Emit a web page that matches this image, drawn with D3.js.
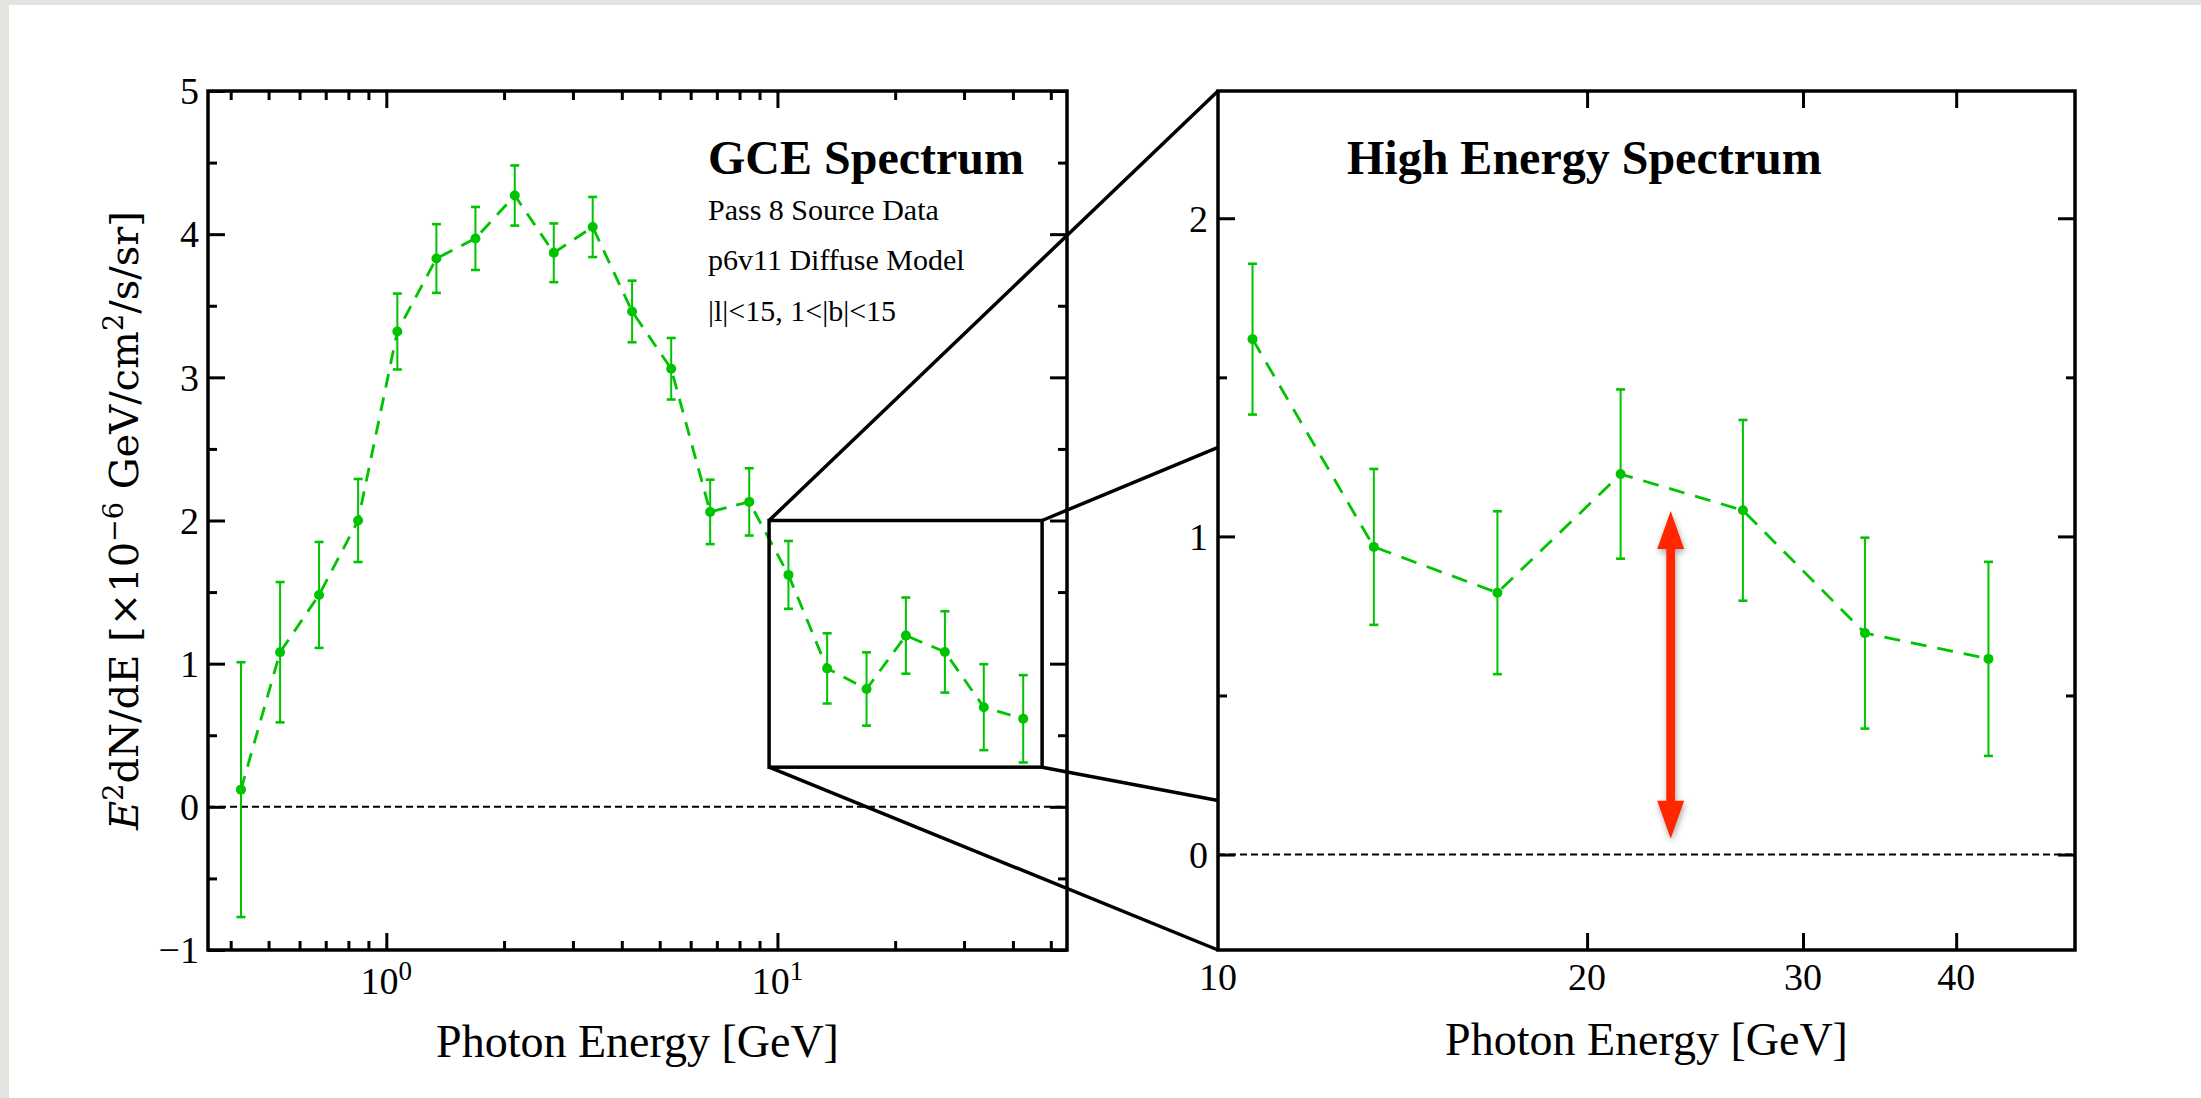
<!DOCTYPE html>
<html><head><meta charset="utf-8">
<script src="https://cdn.jsdelivr.net/npm/d3@7"></script>
<style>html,body{margin:0;padding:0;background:#fff;overflow:hidden}</style>
</head><body>
<svg id="chart" width="2201" height="1098"></svg>
<script>
// ---------------- data ----------------
const energies = [0.425, 0.535, 0.673, 0.847, 1.067, 1.343, 1.69, 2.13, 2.68, 3.37, 4.25,
                  5.35, 6.73, 8.47, 10.67, 13.4, 16.9, 21.3, 26.8, 33.7, 42.5];
const values   = [0.12, 1.08, 1.48, 2.00, 3.32, 3.83, 3.97, 4.27, 3.87, 4.05, 3.46,
                  3.06, 2.06, 2.13, 1.62, 0.967, 0.823, 1.196, 1.082, 0.696, 0.615];
const errors   = [0.89, 0.49, 0.37, 0.29, 0.265, 0.24, 0.22, 0.21, 0.205, 0.21, 0.215,
                  0.215, 0.225, 0.235, 0.237, 0.245, 0.256, 0.266, 0.284, 0.30, 0.305];

const leftXMajorTicks = [1, 10];
const leftXMinorTicks = [0.4, 0.5, 0.6, 0.7, 0.8, 0.9, 2, 3, 4, 5, 6, 7, 8, 9, 20, 30, 40, 50];
const leftXTickLabels = [{v: 1, base: "10", exp: "0"}, {v: 10, base: "10", exp: "1"}];
const leftYMajorTicks = [-1, 0, 1, 2, 3, 4, 5];
const leftYMinorTicks = [-0.5, 0.5, 1.5, 2.5, 3.5, 4.5];
const rightXTicks = [20, 30, 40];
const rightXTickLabels = [10, 20, 30, 40];
const rightYMajorTicks = [0, 1, 2];
const rightYMinorTicks = [0.5, 1.5];

const leftTitle = "GCE Spectrum";
const leftNotes = ["Pass 8 Source Data", "p6v11 Diffuse Model", "|l|<15, 1<|b|<15"];
const rightTitle = "High Energy Spectrum";
const xTitle = "Photon Energy [GeV]";

const zoomBoxEnergy = [9.52, 47.5];
const zoomBoxValue = [0.277, 2.0];
// right-panel values (at E = 10) reached by the connectors from the box corners:
// top-left, top-right, bottom-left, bottom-right
const connectorTargets = [2.4, 1.28, -0.3, 0.17];
const arrowEnergy = 23.4;
const arrowValues = [1.08, 0.05];

// ---------------- layout ----------------
const W = 2201, H = 1098;
const green = "#00c400";
const serif = "'Liberation Serif','Times New Roman',serif";
const L = {x0: 208, x1: 1067, y0: 91, y1: 950};
const R = {x0: 1218, x1: 2075, y0: 91, y1: 950};

const svg = d3.select("#chart");
const defs = svg.append("defs");
const f = defs.append("filter").attr("id", "shadow").attr("x", "-50%").attr("y", "-20%").attr("width", "200%").attr("height", "140%");
f.append("feDropShadow").attr("dx", 1).attr("dy", 3).attr("stdDeviation", 3)
  .attr("flood-color", "#000").attr("flood-opacity", 0.35);

svg.append("rect").attr("width", W).attr("height", H).attr("fill", "#e3e3df");
svg.append("rect").attr("x", 9).attr("y", 5).attr("width", W - 9).attr("height", H - 5).attr("fill", "#fff");

const xL = d3.scaleLog().domain([0.35, 55]).range([L.x0, L.x1]);
const yL = d3.scaleLinear().domain([-1, 5]).range([L.y1, L.y0]);
const xR = d3.scaleLog().domain([10, 50]).range([R.x0, R.x1]);
const yR = d3.scaleLinear().domain([-0.3, 2.4]).range([R.y1, R.y0]);

const data = energies.map((e, i) => ({e, v: values[i], err: errors[i]}));

function ticks(g, box, x, y, xMaj, xMin, yMaj, yMin) {
  const specs = [
    [d3.axisBottom, x, xMaj, 17, `translate(0,${box.y1})`],
    [d3.axisBottom, x, xMin, 9, `translate(0,${box.y1})`],
    [d3.axisTop, x, xMaj, 17, `translate(0,${box.y0})`],
    [d3.axisTop, x, xMin, 9, `translate(0,${box.y0})`],
    [d3.axisLeft, y, yMaj, 17, `translate(${box.x0},0)`],
    [d3.axisLeft, y, yMin, 9, `translate(${box.x0},0)`],
    [d3.axisRight, y, yMaj, 17, `translate(${box.x1},0)`],
    [d3.axisRight, y, yMin, 9, `translate(${box.x1},0)`]
  ];
  specs.forEach(([ax, sc, vals, len, tr]) => {
    if (!vals.length) return;
    const a = g.append("g").attr("transform", tr)
      .call(ax(sc).tickValues(vals).tickSizeInner(-len).tickSizeOuter(0).tickFormat(""));
    a.select(".domain").remove();
    a.selectAll(".tick line").attr("stroke", "#000").attr("stroke-width", 3);
  });
}

function panel(box, x, y, pts, dash) {
  const g = svg.append("g");
  g.append("line").attr("x1", box.x0).attr("x2", box.x1).attr("y1", y(0)).attr("y2", y(0))
    .attr("stroke", "#000").attr("stroke-width", 2).attr("stroke-dasharray", "7,4");
  g.append("path").datum(pts)
    .attr("d", d3.line().x(d => x(d.e)).y(d => y(d.v)))
    .attr("fill", "none").attr("stroke", green).attr("stroke-width", 2.8).attr("stroke-dasharray", dash);
  const eb = g.selectAll("g.eb").data(pts).join("g");
  eb.append("line").attr("x1", d => x(d.e)).attr("x2", d => x(d.e))
    .attr("y1", d => y(d.v + d.err)).attr("y2", d => y(d.v - d.err))
    .attr("stroke", green).attr("stroke-width", 2);
  [1, -1].forEach(s => {
    eb.append("line").attr("x1", d => x(d.e) - 4.5).attr("x2", d => x(d.e) + 4.5)
      .attr("y1", d => y(d.v + s * d.err)).attr("y2", d => y(d.v + s * d.err))
      .attr("stroke", green).attr("stroke-width", 2.6);
  });
  eb.append("circle").attr("cx", d => x(d.e)).attr("cy", d => y(d.v)).attr("r", 5).attr("fill", green);
  return g;
}

panel(L, xL, yL, data, "14,10");
panel(R, xR, yR, data.filter(d => d.e >= 10), "16,11");

const gt = svg.append("g");
ticks(gt, L, xL, yL, leftXMajorTicks, leftXMinorTicks, leftYMajorTicks, leftYMinorTicks);
ticks(gt, R, xR, yR, rightXTicks, [], rightYMajorTicks, rightYMinorTicks);
[L, R].forEach(b => svg.append("rect").attr("x", b.x0).attr("y", b.y0)
  .attr("width", b.x1 - b.x0).attr("height", b.y1 - b.y0)
  .attr("fill", "none").attr("stroke", "#000").attr("stroke-width", 3.5));

const fmt = v => v < 0 ? "\u2212" + Math.abs(v) : String(v);
svg.append("g").selectAll("text").data(leftYMajorTicks).join("text")
  .attr("x", L.x0 - 9).attr("y", d => yL(d)).attr("dy", "0.35em").attr("text-anchor", "end")
  .attr("font-family", serif).attr("font-size", 38).text(fmt);
svg.append("g").selectAll("text").data(rightYMajorTicks).join("text")
  .attr("x", R.x0 - 10).attr("y", d => yR(d)).attr("dy", "0.35em").attr("text-anchor", "end")
  .attr("font-family", serif).attr("font-size", 38).text(fmt);
const lx = svg.append("g").selectAll("text").data(leftXTickLabels).join("text")
  .attr("x", d => xL(d.v)).attr("y", L.y1 + 44).attr("text-anchor", "middle")
  .attr("font-family", serif).attr("font-size", 38);
lx.append("tspan").text(d => d.base);
lx.append("tspan").attr("dy", -14).attr("font-size", 27).text(d => d.exp);
svg.append("g").selectAll("text").data(rightXTickLabels).join("text")
  .attr("x", d => xR(d)).attr("y", R.y1 + 40).attr("text-anchor", "middle")
  .attr("font-family", serif).attr("font-size", 38).text(d => d);

[[L, 1057], [R, 1055]].forEach(([b, yy]) => svg.append("text")
  .attr("x", (b.x0 + b.x1) / 2).attr("y", yy).attr("text-anchor", "middle")
  .attr("font-family", serif).attr("font-size", 46).text(xTitle));

const yt = svg.append("text").attr("transform", `translate(138,${(L.y0 + L.y1) / 2}) rotate(-90)`)
  .attr("text-anchor", "middle").attr("font-family", "'DejaVu Serif',serif").attr("font-size", 40);
yt.append("tspan").attr("font-style", "italic").text("E");
yt.append("tspan").attr("dy", -15).attr("font-size", 27).text("2");
yt.append("tspan").attr("dy", 15).text("dN/dE [\u00d710");
yt.append("tspan").attr("dy", -15).attr("font-size", 27).text("\u22126");
yt.append("tspan").attr("dy", 15).text(" GeV/cm");
yt.append("tspan").attr("dy", -15).attr("font-size", 27).text("2");
yt.append("tspan").attr("dy", 15).text("/s/sr]");

svg.append("text").attr("x", 708).attr("y", 174).attr("font-family", serif).attr("font-size", 48)
  .attr("font-weight", "bold").text(leftTitle);
svg.append("g").selectAll("text").data(leftNotes).join("text")
  .attr("x", 708).attr("y", (d, i) => [220, 270, 321][i])
  .attr("font-family", serif).attr("font-size", 30).text(d => d);
svg.append("text").attr("x", 1347).attr("y", 174).attr("font-family", serif).attr("font-size", 48)
  .attr("font-weight", "bold").text(rightTitle);

const bx0 = xL(zoomBoxEnergy[0]), bx1 = xL(zoomBoxEnergy[1]);
const by0 = yL(zoomBoxValue[1]), by1 = yL(zoomBoxValue[0]);
const corners = [[bx0, by0], [bx1, by0], [bx0, by1], [bx1, by1]];
svg.append("g").selectAll("line").data(corners).join("line")
  .attr("x1", d => d[0]).attr("y1", d => d[1])
  .attr("x2", xR(10)).attr("y2", (d, i) => yR(connectorTargets[i]))
  .attr("stroke", "#000").attr("stroke-width", 3.5);
svg.append("rect").attr("x", bx0).attr("y", by0).attr("width", bx1 - bx0).attr("height", by1 - by0)
  .attr("fill", "none").attr("stroke", "#000").attr("stroke-width", 3.5);

const ax = xR(arrowEnergy), yTop = yR(arrowValues[0]), yBot = yR(arrowValues[1]);
const hl = 38, hw = 13.5, sw = 4.4;
const p = d3.path();
p.moveTo(ax, yTop); p.lineTo(ax + hw, yTop + hl); p.lineTo(ax + sw, yTop + hl);
p.lineTo(ax + sw, yBot - hl); p.lineTo(ax + hw, yBot - hl); p.lineTo(ax, yBot);
p.lineTo(ax - hw, yBot - hl); p.lineTo(ax - sw, yBot - hl); p.lineTo(ax - sw, yTop + hl);
p.lineTo(ax - hw, yTop + hl); p.closePath();
svg.append("path").attr("d", p.toString()).attr("fill", "#ff2800").attr("filter", "url(#shadow)");
</script>
</body></html>
